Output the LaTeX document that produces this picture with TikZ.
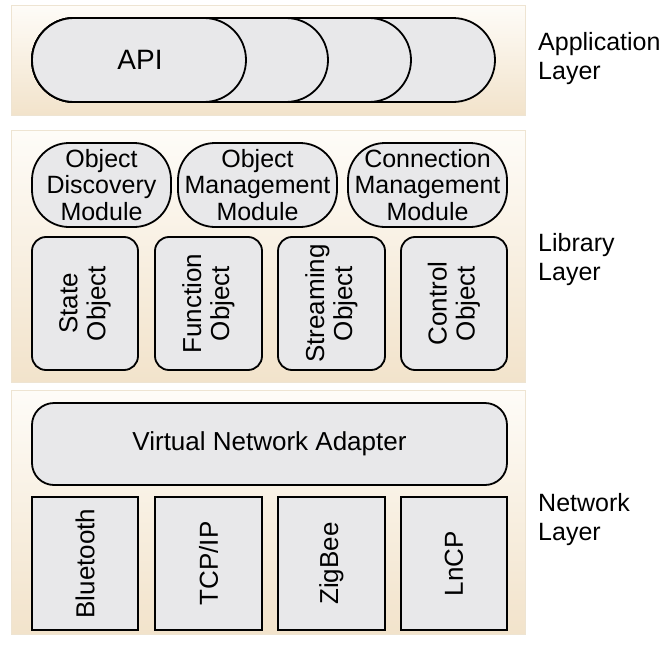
\documentclass[tikz,border=0pt]{standalone}
\usepackage{fontspec}
\setmainfont{Liberation Sans}
\usetikzlibrary{shapes.misc}
\definecolor{panelTop}{HTML}{FEFCF8}
\definecolor{panelBot}{HTML}{F2E3CB}
\definecolor{boxFill}{HTML}{E8E8EA}
\definecolor{panelEdge}{HTML}{EEE4D2}
\tikzset{
  panel/.style={draw=panelEdge, line width=0.6pt, top color=panelTop, bottom color=panelBot},
  blockbox/.style={draw=black, fill=boxFill, line width=1.8pt},
  txt/.style={font=\fontsize{25}{26.5}\selectfont, align=center, inner sep=0pt},
  rottxt/.style={font=\fontsize{26}{28}\selectfont, align=center, inner sep=0pt, rotate=90},
  labeltxt/.style={font=\fontsize{25}{29}\selectfont, align=left, anchor=west, inner sep=0pt},
}
\begin{document}
\begin{tikzpicture}[x=1pt, y=-1pt]
  \useasboundingbox (0,0) rectangle (664,645);
  \fill[white] (0,0) rectangle (664,645);

  % layer panels
  \draw[panel] (11,5) rectangle (525,115);
  \draw[panel] (11,130) rectangle (525,382);
  \draw[panel] (11,390) rectangle (525,634);

  % application layer: stacked API capsules, back to front
  \draw[blockbox, rounded corners=42pt] (32,18) rectangle (495,102);
  \draw[blockbox, rounded corners=42pt] (32,18) rectangle (411,102);
  \draw[blockbox, rounded corners=42pt] (32,18) rectangle (328,102);
  \draw[blockbox, rounded corners=42pt] (32,18) rectangle (246,102);
  \node[txt, font=\fontsize{28}{30}\selectfont] (api) at (140,60) {API};

  % library layer: modules
  \draw[blockbox, rounded corners=37pt] (32,143) rectangle (171,227);
  \node[txt] (odm) at (101.5,185) {Object\\Discovery\\Module};
  \draw[blockbox, rounded corners=37pt] (178,143) rectangle (337,227);
  \node[txt] (omm) at (257.5,185) {Object\\Management\\Module};
  \draw[blockbox, rounded corners=37pt] (348,143) rectangle (507,227);
  \node[txt] (cmm) at (427.5,185) {Connection\\Management\\Module};

  % library layer: objects
  \draw[blockbox, rounded corners=14pt] (32,237) rectangle (138,370);
  \node[rottxt] (state) at (85,303.5) {State\\Object};
  \draw[blockbox, rounded corners=14pt] (155,237) rectangle (262,370);
  \node[rottxt] (func) at (208.5,303.5) {Function\\Object};
  \draw[blockbox, rounded corners=14pt] (278,237) rectangle (385,370);
  \node[rottxt] (stream) at (331.5,303.5) {Streaming\\Object};
  \draw[blockbox, rounded corners=14pt] (401,237) rectangle (507,370);
  \node[rottxt] (ctrl) at (454,303.5) {Control\\Object};

  % network layer
  \draw[blockbox, rounded corners=22pt] (32,403) rectangle (507,485);
  \node[txt, font=\fontsize{26}{28}\selectfont] (vna) at (269.5,444) {Virtual Network Adapter};
  \draw[blockbox] (32,497) rectangle (138,630);
  \node[rottxt] (bt) at (85,563.5) {Bluetooth};
  \draw[blockbox] (155,497) rectangle (262,630);
  \node[rottxt] (tcp) at (208.5,563.5) {TCP/IP};
  \draw[blockbox] (278,497) rectangle (385,630);
  \node[rottxt] (zig) at (331.5,563.5) {ZigBee};
  \draw[blockbox] (401,497) rectangle (507,630);
  \node[rottxt] (lncp) at (454,563.5) {LnCP};

  % layer captions
  \node[labeltxt] (appl) at (538,59) {Application\\Layer};
  \node[labeltxt] (libl) at (538,260) {Library\\Layer};
  \node[labeltxt] (netl) at (538,520) {Network\\Layer};
\end{tikzpicture}
\end{document}
